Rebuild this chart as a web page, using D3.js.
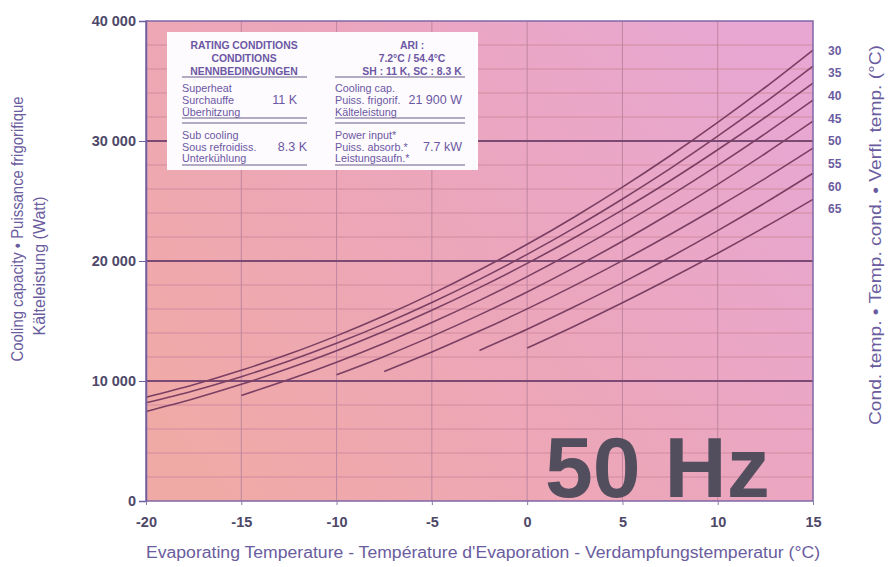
<!DOCTYPE html>
<html><head><meta charset="utf-8">
<script src="https://cdn.jsdelivr.net/npm/d3@7/dist/d3.min.js"></script>
<style>
body{margin:0;background:#fff;}
svg{display:block;font-family:"Liberation Sans",Arial,Helvetica,sans-serif;}
</style>
</head><body>
<svg id="c" width="889" height="567"></svg>
<script>
// ---------------- data ----------------
const condTemps = [30, 35, 40, 45, 50, 55, 60, 65];
const evapGrid = [-20, -17.5, -15, -12.5, -10, -7.5, -5, -2.5, 0, 2.5, 5, 7.5, 10, 12.5, 15];
const xTicks = [-20, -15, -10, -5, 0, 5, 10, 15];
const yTicks = [0, 10000, 20000, 30000, 40000];
// cooling capacity (W) — each series ends at +15 °C and starts where the curve starts
const cap30 = [8650, 9690, 10890, 12240, 13760, 15430, 17260, 19250, 21390, 23690, 26150, 28770, 31550, 34480, 37580];
const cap35 = [8180, 9190, 10360, 11670, 13140, 14760, 16540, 18470, 20550, 22780, 25170, 27700, 30400, 33240, 36240];
const cap40 = [7460, 8520, 9720, 11060, 12530, 14140, 15890, 17780, 19800, 21960, 24260, 26690, 29270, 31980, 34830];
const cap45 = [8800, 10120, 11570, 13150, 14870, 16720, 18700, 20820, 23070, 25450, 27970, 30620, 33400];
const cap50 = [10520, 12050, 13720, 15510, 17420, 19470, 21650, 23960, 26390, 28960, 31650];
const cap55 = [10800, 12420, 14160, 16010, 17970, 20030, 22210, 24500, 26890, 29400];
const cap60 = [12550, 14320, 16210, 18200, 20310, 22530, 24860, 27310];
const cap65 = [12750, 14590, 16520, 18540, 20650, 22850, 25140];
const capSeries = [cap30, cap35, cap40, cap45, cap50, cap55, cap60, cap65];

const boxLeftHead = ["RATING CONDITIONS", "CONDITIONS", "NENNBEDINGUNGEN"];
const boxRightHead = ["ARI :", "7.2°C / 54.4°C", "SH : 11 K, SC : 8.3 K"];
const boxLeftRows = ["Superheat", "Surchauffe", "Überhitzung", "Sub cooling", "Sous refroidiss.", "Unterkühlung"];
const boxRightRows = ["Cooling cap.", "Puiss. frigorif.", "Kälteleistung", "Power input*", "Puiss. absorb.*", "Leistungsaufn.*"];
const boxLeftVals = ["11 K", "8.3 K"];
const boxRightVals = ["21 900 W", "7.7 kW"];

// ---------------- layout ----------------
const svg = d3.select("#c");
const L = 146, R = 813, T = 21, B = 501;
const x = d3.scaleLinear().domain([-20, 15]).range([L, R]);
const y = d3.scaleLinear().domain([0, 40000]).range([B, T]);

const defs = svg.append("defs");
const g = defs.append("linearGradient").attr("id", "bg")
  .attr("x1", "0").attr("y1", "0.8").attr("x2", "1").attr("y2", "0.2");
g.append("stop").attr("offset", "0").attr("stop-color", "#f0aaa6");
g.append("stop").attr("offset", "0.5").attr("stop-color", "#eca6bb");
g.append("stop").attr("offset", "1").attr("stop-color", "#e7a7d2");

svg.append("rect").attr("x", L).attr("y", T).attr("width", R - L).attr("height", B - T)
  .attr("fill", "url(#bg)");

// minor horizontal grid every 2000
const minorY = d3.range(2000, 40000, 2000).filter(v => v % 10000 !== 0);
svg.append("g").selectAll("line").data(minorY).join("line")
  .attr("x1", L).attr("x2", R).attr("y1", d => y(d)).attr("y2", d => y(d))
  .attr("stroke", "#d28a9e").attr("stroke-width", 1);
// vertical grid
svg.append("g").selectAll("line").data(xTicks.slice(1, -1)).join("line")
  .attr("x1", d => x(d)).attr("x2", d => x(d)).attr("y1", T).attr("y2", B)
  .attr("stroke", "#bf86a0").attr("stroke-width", 1);
// major horizontal
svg.append("g").selectAll("line").data([10000, 20000, 30000]).join("line")
  .attr("x1", L).attr("x2", R).attr("y1", d => y(d)).attr("y2", d => y(d))
  .attr("stroke", "#7a4a74").attr("stroke-width", 1.8);

// info box
const bx = 167, by = 32, bw = 311, bh = 138;
svg.append("rect").attr("x", bx).attr("y", by).attr("width", bw).attr("height", bh).attr("fill", "#fdfbfd");
const txtCol = "#6c57a4";
const ib = svg.append("g").attr("fill", txtCol);
boxLeftHead.forEach((t, i) => ib.append("text").attr("x", 244).attr("y", 48.5 + i * 13.2)
  .attr("text-anchor", "middle").attr("font-size", 10.4).attr("font-weight", "bold").text(t));
boxRightHead.forEach((t, i) => ib.append("text").attr("x", 412).attr("y", 48.5 + i * 13.2)
  .attr("text-anchor", "middle").attr("font-size", 10.4).attr("font-weight", "bold").text(t));
const rowY = [91.5, 104, 115.5, 139, 151, 162];
boxLeftRows.forEach((t, i) => ib.append("text").attr("x", 182).attr("y", rowY[i])
  .attr("font-size", 10.8).text(t));
boxRightRows.forEach((t, i) => ib.append("text").attr("x", 335).attr("y", rowY[i])
  .attr("font-size", 10.8).text(t));
boxLeftVals.forEach((t, i) => ib.append("text").attr("x", i === 0 ? 297 : 307).attr("y", rowY[i * 3 + 1])
  .attr("text-anchor", "end").attr("font-size", 12.5).text(t));
boxRightVals.forEach((t, i) => ib.append("text").attr("x", 462).attr("y", rowY[i * 3 + 1])
  .attr("text-anchor", "end").attr("font-size", 12.5).text(t));
const boxLines = [[182, 307, 77], [335, 465, 77], [182, 307, 118], [182, 307, 123], [335, 465, 118], [335, 465, 123], [182, 307, 165], [335, 465, 165]];
svg.append("g").selectAll("line").data(boxLines).join("line")
  .attr("x1", d => d[0]).attr("x2", d => d[1]).attr("y1", d => d[2]).attr("y2", d => d[2])
  .attr("stroke", "#6a5a8c").attr("stroke-width", 1.1);

// curves
const line = d3.line().x(d => x(d[0])).y(d => y(d[1])).curve(d3.curveMonotoneX);
capSeries.forEach(vals => {
  const xs = evapGrid.slice(evapGrid.length - vals.length);
  svg.append("path").datum(vals.map((v, i) => [xs[i], v])).attr("d", line)
    .attr("fill", "none").attr("stroke", "#7b3f63").attr("stroke-width", 1.6);
});

// 50 Hz
svg.append("text").attr("x", 545).attr("y", 497).attr("font-size", 86).attr("font-weight", "bold")
  .attr("fill", "#524e5e").text("50 Hz");

// frame
svg.append("rect").attr("x", L).attr("y", T).attr("width", R - L).attr("height", B - T)
  .attr("fill", "none").attr("stroke", "#7f67a6").attr("stroke-width", 1.5);

// axes
const tickCol = "#4e4868";
const yAx = svg.append("g").attr("transform", `translate(${L},0)`)
  .call(d3.axisLeft(y).tickValues(yTicks).tickSize(7).tickPadding(3)
    .tickFormat(d => d3.format(",")(d).replace(/,/g, " ")));
yAx.select(".domain").attr("stroke", "#6f5fa0").attr("stroke-width", 1.5);
yAx.selectAll(".tick line").attr("stroke", "#6f5fa0");
yAx.selectAll("text").attr("font-size", 14.5).attr("font-weight", "bold").attr("fill", tickCol)
  .attr("font-family", "'Liberation Sans',Arial,sans-serif");

const xAx = svg.append("g").attr("transform", `translate(0,${B})`)
  .call(d3.axisBottom(x).tickValues(xTicks).tickSize(4).tickPadding(12).tickFormat(d => String(d)));
xAx.select(".domain").remove();
xAx.selectAll(".tick line").attr("stroke", "#8a7aa8");
xAx.selectAll("text").attr("font-size", 14.5).attr("font-weight", "bold").attr("fill", tickCol)
  .attr("font-family", "'Liberation Sans',Arial,sans-serif");

// condensing temp labels
svg.append("g").selectAll("text").data(condTemps).join("text")
  .attr("x", 828).attr("y", (d, i) => 54.5 + i * 22.7)
  .attr("font-size", 12).attr("font-weight", "bold").attr("fill", "#6a5ca0").text(d => d);

// axis titles
const titleCol = "#6a5c9e";
svg.append("text").attr("transform", "translate(23,229) rotate(-90)").attr("text-anchor", "middle")
  .attr("font-size", 16).attr("fill", titleCol)
  .attr("textLength", 265).attr("lengthAdjust", "spacingAndGlyphs")
  .text("Cooling capacity • Puissance frigorifique");
svg.append("text").attr("transform", "translate(45,266) rotate(-90)").attr("text-anchor", "middle")
  .attr("font-size", 16).attr("fill", titleCol)
  .attr("textLength", 139).attr("lengthAdjust", "spacingAndGlyphs")
  .text("Kälteleistung (Watt)");
svg.append("text").attr("transform", "translate(881,235) rotate(-90)").attr("text-anchor", "middle")
  .attr("font-size", 16).attr("fill", titleCol)
  .attr("textLength", 380).attr("lengthAdjust", "spacingAndGlyphs")
  .text("Cond. temp. • Temp. cond. • Verfl. temp. (°C)");
svg.append("text").attr("x", 483).attr("y", 558).attr("text-anchor", "middle")
  .attr("font-size", 16).attr("fill", titleCol)
  .attr("textLength", 674).attr("lengthAdjust", "spacingAndGlyphs")
  .text("Evaporating Temperature - Température d'Evaporation - Verdampfungstemperatur (°C)");
</script>
</body></html>
